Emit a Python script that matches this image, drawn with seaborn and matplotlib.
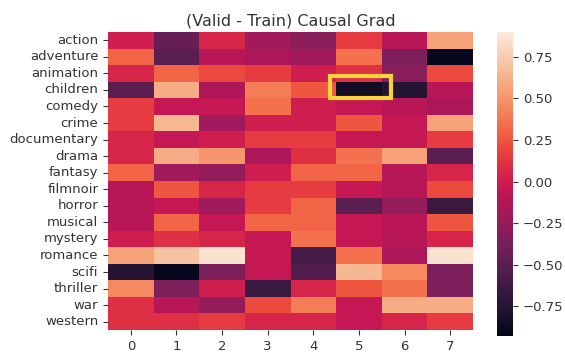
import numpy as np
import pandas as pd
import seaborn as sns
import matplotlib.pyplot as plt
from matplotlib.patches import Rectangle

# genres (rows) and dimensions (columns)
genres = ['action', 'adventure', 'animation', 'children', 'comedy', 'crime',
          'documentary', 'drama', 'fantasy', 'filmnoir', 'horror', 'musical',
          'mystery', 'romance', 'scifi', 'thriller', 'war', 'western']
dims = [0, 1, 2, 3, 4, 5, 6, 7]

# (valid - train) causal grad values
action      = [0.00, -0.45, 0.05, -0.20, -0.30, 0.15, -0.10, 0.55]
adventure   = [0.30, -0.50, -0.10, -0.15, -0.20, 0.35, -0.35, -0.90]
animation   = [0.05, 0.30, 0.20, 0.15, 0.00, 0.10, -0.30, 0.20]
children    = [-0.50, 0.60, -0.15, 0.40, 0.25, -0.85, -0.75, -0.10]
comedy      = [0.15, -0.05, -0.05, 0.35, 0.00, -0.05, -0.10, -0.15]
crime       = [0.15, 0.65, -0.20, 0.00, 0.00, 0.25, -0.05, 0.55]
documentary = [0.05, -0.05, 0.00, 0.15, 0.15, -0.05, -0.05, 0.15]
drama       = [0.05, 0.60, 0.50, -0.15, 0.10, 0.35, 0.55, -0.50]
fantasy     = [0.30, -0.20, -0.25, 0.00, 0.30, 0.30, -0.10, 0.05]
filmnoir    = [-0.10, 0.25, 0.05, 0.15, 0.15, -0.05, -0.10, 0.20]
horror      = [-0.10, -0.05, -0.20, 0.15, 0.30, -0.50, -0.25, -0.65]
musical     = [-0.10, 0.30, -0.05, 0.30, 0.30, -0.05, -0.10, 0.25]
mystery     = [0.00, 0.10, 0.05, -0.05, 0.35, -0.05, -0.10, 0.05]
romance     = [0.55, 0.70, 0.85, -0.05, -0.60, 0.35, -0.15, 0.85]
scifi       = [-0.75, -0.90, -0.35, -0.05, -0.55, 0.65, 0.45, -0.35]
thriller    = [0.45, -0.35, 0.00, -0.65, 0.05, 0.25, 0.35, -0.35]
war         = [0.10, -0.10, -0.25, 0.20, 0.40, -0.05, 0.60, 0.60]
western     = [0.10, 0.10, 0.15, 0.05, 0.05, -0.05, 0.05, 0.15]

rows = [action, adventure, animation, children, comedy, crime, documentary,
        drama, fantasy, filmnoir, horror, musical, mystery, romance, scifi,
        thriller, war, western]
df = pd.DataFrame(rows, index=genres, columns=dims)

fig = plt.figure(figsize=(5.65, 3.53), dpi=100)
ax = fig.add_axes([108 / 565, 1 - 330 / 353, 365 / 565, 298 / 353])
cax = fig.add_axes([497 / 565, 1 - 336 / 353, 16 / 565, 304 / 353])

sns.heatmap(df, ax=ax, cbar_ax=cax, vmin=-0.93, vmax=0.9)
ax.set_title('(Valid - Train) Causal Grad', fontsize=11.5, color='#333333', pad=5)
ax.tick_params(labelsize=9.5, colors='#333333')
ax.set_yticklabels(genres, rotation=0)
cax.tick_params(labelsize=9.5, colors='#333333')

# highlight box around children / dim 5
ax.add_patch(Rectangle((4.87, 2.68), 1.33, 1.31, fill=False,
                       edgecolor='#f7d43c', lw=3, clip_on=False))

fig.savefig('out.png', dpi=100)
